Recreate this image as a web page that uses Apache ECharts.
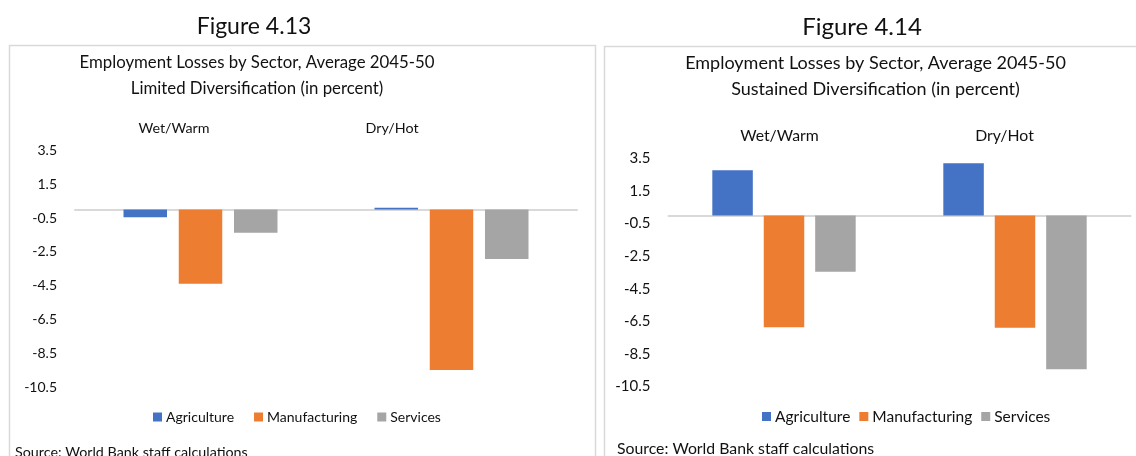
<!DOCTYPE html>
<html>
<head>
<meta charset="utf-8">
<style>
  html, body { margin: 0; padding: 0; background: #ffffff; }
  #chart { width: 1136px; height: 456px; }
</style>
<script src="https://cdn.jsdelivr.net/npm/echarts@6/dist/echarts.min.js"></script>
</head>
<body>
<div id="chart"></div>
<script>
// Climate scenarios (categories) and sectors (series)
const scenarios = ['Wet/Warm', 'Dry/Hot'];
const sectors = ['Agriculture', 'Manufacturing', 'Services'];

// Figure 4.13 — Limited Diversification, percent
const limitedAgriculture = [-0.46, 0.1];
const limitedManufacturing = [-4.39, -9.5];
const limitedServices = [-1.37, -2.93];

// Figure 4.14 — Sustained Diversification, percent
const sustainedAgriculture = [2.78, 3.21];
const sustainedManufacturing = [-6.88, -6.9];
const sustainedServices = [-3.46, -9.46];

// Value-axis labels shown on both panels
const yTickLabels = ['3.5', '1.5', '-0.5', '-2.5', '-4.5', '-6.5', '-8.5', '-10.5'];

const sectorColors = ['#4472C4', '#ED7D31', '#A5A5A5'];
const FONT = 'Lato, "Liberation Sans", sans-serif';
const TEXT = '#111111';

const chart = echarts.init(document.getElementById('chart'), null, { renderer: 'canvas' });

function valueAxis(gridIndex, fontSize) {
  return {
    type: 'value',
    gridIndex: gridIndex,
    min: -10.5,
    max: 3.5,
    interval: 0.5,
    axisLine: { show: false },
    axisTick: { show: false },
    splitLine: { show: false },
    axisLabel: {
      margin: 18,
      color: TEXT,
      fontFamily: FONT,
      fontSize: fontSize,
      formatter: function (v) {
        const s = Number(v).toFixed(1);
        return yTickLabels.indexOf(s) >= 0 ? s : '';
      }
    }
  };
}

function categoryAxis(gridIndex) {
  return {
    type: 'category',
    gridIndex: gridIndex,
    data: scenarios,
    axisLine: { show: true, onZero: true, lineStyle: { color: '#d9d9d9', width: 2 } },
    axisTick: { show: false },
    axisLabel: { show: false }
  };
}

function barSeries(name, data, idx, axisIndex, width) {
  return {
    type: 'bar',
    name: name,
    data: data,
    xAxisIndex: axisIndex,
    yAxisIndex: axisIndex,
    barWidth: width,
    barGap: '27%',
    itemStyle: { color: sectorColors[idx] },
    emphasis: { disabled: true }
  };
}

function legend(left, top, fontSize, gap) {
  return {
    data: sectors,
    left: left,
    top: top,
    orient: 'horizontal',
    icon: 'rect',
    itemWidth: 9,
    itemHeight: 9,
    itemGap: gap,
    padding: 0,
    selectedMode: false,
    textStyle: { color: TEXT, fontFamily: FONT, fontSize: fontSize, padding: [0, 0, 0, -1] }
  };
}

function text(str, x, y, size, align) {
  return {
    type: 'text',
    x: x,
    y: y,
    silent: true,
    style: {
      text: str,
      fill: TEXT,
      font: size + 'px ' + FONT,
      textAlign: align || 'center',
      textVerticalAlign: 'middle'
    }
  };
}

// Scenario labels above each panel, placed over the bar groups
const leftScenarioX = [174, 392];
const rightScenarioX = [779.5, 1004.5];

const graphics = [
  // panel frames
  { type: 'rect', silent: true, shape: { x: 9.5, y: 45.5, width: 586, height: 440 },
    style: { fill: null, stroke: '#d9d9d9', lineWidth: 1.5 } },
  { type: 'rect', silent: true, shape: { x: 604.5, y: 46.5, width: 560, height: 440 },
    style: { fill: null, stroke: '#d9d9d9', lineWidth: 1.5 } },
  text('Figure 4.13', 254, 27, 23),
  text('Figure 4.14', 862, 27, 24),
  text('Employment Losses by Sector, Average 2045-50', 257, 63, 16.8),
  text('Limited Diversification (in percent)', 257, 89, 16.8),
  text('Employment Losses by Sector, Average 2045-50', 875.5, 63, 18),
  text('Sustained Diversification (in percent)', 875.5, 89, 18),
  text('Source: World Bank staff calculations', 15, 452, 14.3, 'left'),
  text('Source: World Bank staff calculations', 617, 449, 15.8, 'left')
];
scenarios.forEach(function (s, i) {
  graphics.push(text(s, leftScenarioX[i], 128.5, 14.3));
  graphics.push(text(s, rightScenarioX[i], 135.5, 15.8));
});

const option = {
  animation: false,
  backgroundColor: '#ffffff',
  textStyle: { fontFamily: FONT },
  grid: [
    { left: 75, top: 150.4, width: 502, height: 236.6 },
    { left: 668.5, top: 158.6, width: 462, height: 227.6 }
  ],
  xAxis: [categoryAxis(0), categoryAxis(1)],
  yAxis: [valueAxis(0, 14), valueAxis(1, 15)],
  legend: [legend(153, 410, 14, 20), legend(762, 408.5, 15.5, 9)],
  series: [
    barSeries(sectors[0], limitedAgriculture, 0, 0, 43.5),
    barSeries(sectors[1], limitedManufacturing, 1, 0, 43.5),
    barSeries(sectors[2], limitedServices, 2, 0, 43.5),
    barSeries(sectors[0], sustainedAgriculture, 0, 1, 40.5),
    barSeries(sectors[1], sustainedManufacturing, 1, 1, 40.5),
    barSeries(sectors[2], sustainedServices, 2, 1, 40.5)
  ],
  graphic: graphics
};

chart.setOption(option);
</script>
</body>
</html>
